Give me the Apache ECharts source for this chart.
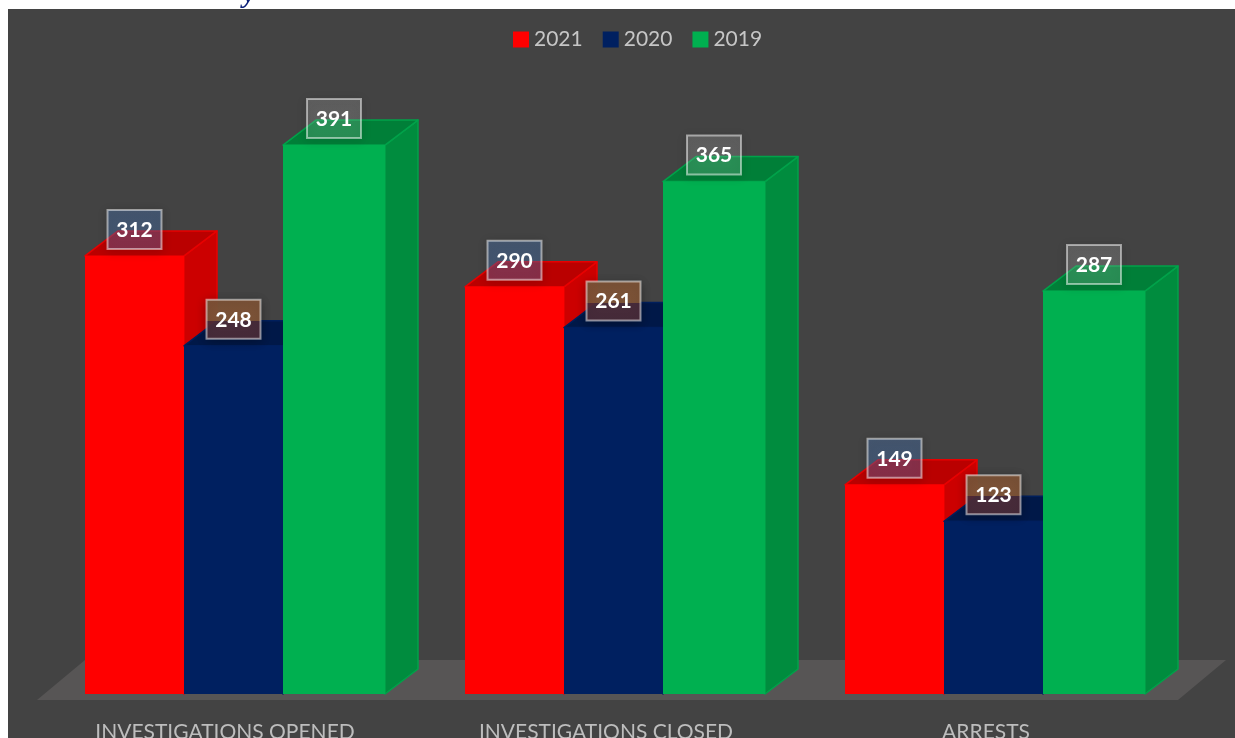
<!DOCTYPE html>
<html>
<head>
<meta charset="utf-8">
<style>html,body{margin:0;padding:0;background:#fff;overflow:hidden}#c{width:1235px;height:738px}</style>
<script src="https://cdn.jsdelivr.net/npm/echarts@6/dist/echarts.min.js"></script>
</head>
<body>
<div id="c"></div>
<script>
const categories = ['INVESTIGATIONS OPENED', 'INVESTIGATIONS CLOSED', 'ARRESTS'];
const years = ['2021', '2020', '2019'];
const values2021 = [312, 290, 149];
const values2020 = [248, 261, 123];
const values2019 = [391, 365, 287];

const FONT = 'Lato, "Open Sans", sans-serif';
const DX = 33, DY = 25;
const BAR_OFFSET = [-150, -51, 48], BAR_WIDTH = [99, 99, 102];
const styles = [
  {front:'#ff0000', top:'#ba0000', side:'#cc0000', edge:'#e80000'},
  {front:'#002060', top:'#001848', side:'#001848', edge:'#001f5c'},
  {front:'#00b050', top:'#007f38', side:'#008c3e', edge:'#00a24a'}
];
const labelFill = [
  {over:'rgba(80,130,200,0.36)', under:'rgba(80,130,200,0.36)'},
  {over:'rgba(125,83,55,0.97)', under:'rgba(76,45,58,0.93)'},
  {over:'rgba(255,255,255,0.16)', under:'rgba(255,255,255,0.16)'}
];

function barRenderer(i) {
  return function (params, api) {
    const c = api.coord([api.value(0), api.value(1)]);
    const base = api.coord([api.value(0), 0]);
    const x0 = c[0] + BAR_OFFSET[i], x1 = x0 + BAR_WIDTH[i], yt = c[1], yb = base[1];
    const st = styles[i];
    const backY = yt - DY;
    const bw = 54, bh = 39;
    const cy = yt - 26.5, bx = (x0 + x1) / 2 - bw / 2, by = cy - bh / 2;
    const split = Math.max(0, Math.min(1, (backY - by) / bh));
    const faceLine = {stroke: st.edge, lineWidth: 1.5, lineJoin: 'round'};
    return {
      type: 'group',
      children: [
        {type:'polygon', shape:{points:[[x1,yt],[x1+DX,backY],[x1+DX,yb-DY],[x1,yb]]},
          style:Object.assign({fill:st.side}, faceLine)},
        {type:'polygon', shape:{points:[[x0,yt],[x1,yt],[x1+DX,backY],[x0+DX,backY]]},
          style:Object.assign({fill:st.top}, faceLine)},
        {type:'rect', shape:{x:x0,y:yt,width:BAR_WIDTH[i],height:yb-yt}, style:{fill:st.front}},
        {type:'rect', z2:100, shape:{x:bx,y:by,width:bw,height:bh},
          style:{
            fill:{type:'linear',x:0,y:0,x2:0,y2:1,colorStops:[
              {offset:0,color:labelFill[i].over},{offset:split,color:labelFill[i].over},
              {offset:split,color:labelFill[i].under},{offset:1,color:labelFill[i].under}]},
            stroke:'rgba(255,255,255,0.5)', lineWidth:2,
            shadowBlur:10, shadowColor:'rgba(0,0,0,0.35)', shadowOffsetY:2}},
        {type:'text', z2:101, style:{text:String(api.value(1)), x:bx+bw/2, y:by+bh/2+0.5,
          align:'center', verticalAlign:'middle', fill:'#ffffff',
          font:'bold 21px '+FONT}}
      ]
    };
  };
}

function floorRenderer(params) {
  const g = params.coordSys;
  const b = g.y + g.height, l = g.x, r = g.x + g.width;
  return {type:'polygon', silent:true,
    shape:{points:[[l-8,b+6],[l+40,b-34],[r+41,b-34],[r-7,b+6]]},
    style:{fill:'#575555'}};
}

function barSeries(name, values, i) {
  return {
    name, type:'custom', renderItem:barRenderer(i), z:3+i,
    itemStyle:{color:styles[i].front},
    encode:{x:0,y:1}, clip:false,
    data:values.map((v,k)=>[k,v])
  };
}

const chart = echarts.init(document.getElementById('c'), null, {renderer:'canvas', width:1235, height:738});
chart.setOption({
  animation:false,
  backgroundColor:'#ffffff',
  textStyle:{fontFamily:FONT},
  graphic:[
    {type:'rect', z:-10, silent:true, shape:{x:8,y:9,width:1227,height:729}, style:{fill:'#434343'}},
    {type:'text', z:-5, silent:true, style:{text:'y', x:243, y:-19, fill:'#0a1f78', font:'italic bold 28px "Liberation Serif", serif'}}
  ],
  legend:{
    data:years, left:513, top:29, padding:0, icon:'rect', itemWidth:16, itemHeight:16, itemGap:20,
    textStyle:{color:'#c6c6c6', fontSize:21, fontFamily:FONT},
    selectedMode:false
  },
  grid:{left:45, right:50, top:132.4, bottom:44, outerBoundsMode:'none'},
  xAxis:{
    type:'category',
    data:[
      {value:categories[0], textStyle:{padding:[0,20,0,0]}},
      {value:categories[1], textStyle:{padding:[0,18,0,0]}},
      {value:categories[2], textStyle:{padding:[0,18,0,0]}}
    ],
    axisLine:{show:false}, axisTick:{show:false},
    axisLabel:{color:'#bdbdbd', fontSize:21, fontFamily:FONT, margin:28, interval:0, hideOverlap:false}
  },
  yAxis:{type:'value', min:0, max:400, show:false},
  tooltip:{show:false},
  series:[
    {name:'floor', type:'custom', renderItem:floorRenderer, z:1, clip:false, silent:true, data:[[0,0]], encode:{x:0,y:1}},
    barSeries(years[0], values2021, 0),
    barSeries(years[1], values2020, 1),
    barSeries(years[2], values2019, 2)
  ]
});
</script>
</body>
</html>
